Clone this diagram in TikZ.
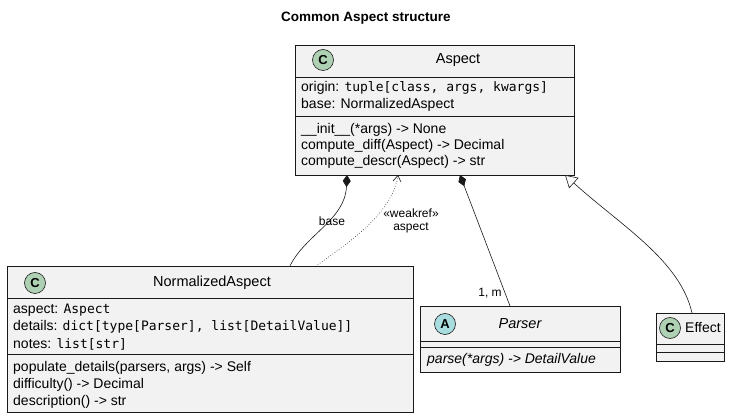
\documentclass[tikz,border=0pt]{standalone}
\usepackage{fontspec}
\setmainfont{Liberation Sans}
\newfontfamily\monof{DejaVu Sans Mono}
\usetikzlibrary{arrows.meta}
\newcommand{\mn}[1]{{\monof\fontsize{13}{15}\selectfont #1}}
\tikzset{
  box/.style={draw=black!90, fill=black!5, line width=0.6pt},
  txt/.style={anchor=west, inner sep=0pt, font=\fontsize{14}{16}\selectfont},
  circ/.style={circle, draw=black!90, line width=0.6pt, minimum size=21pt, inner sep=0pt, font=\bfseries\fontsize{13}{14}\selectfont},
  conn/.style={line width=0.6pt, black!90},
  lbl/.style={font=\fontsize{12}{13}\selectfont, inner sep=1pt, align=center}
}
\begin{document}
\begin{tikzpicture}[x=1pt,y=-1pt]
\useasboundingbox (0,0) rectangle (731,419);
\node[font=\bfseries\fontsize{13.5}{15}\selectfont] (title) at (366,18) {Common Aspect structure};
% Aspect
\draw[box] (295,45) rectangle (574,175);
\draw[conn] (295,77) -- (574,77) (295,116) -- (574,116);
\node[circ, fill={rgb,255:red,173;green,209;blue,178}] (ca) at (323,60) {C};
\node[font=\fontsize{14.5}{16}\selectfont] (aspect) at (458,60) {Aspect};
\node[txt] (a1) at (301,88) {origin: \mn{tuple[class, args, kwargs]}};
\node[txt] (a2) at (301,105) {base: NormalizedAspect};
\node[txt] (a3) at (301,130) {\_\_init\_\_(*args) -> None};
\node[txt] (a4) at (301,146) {compute\_diff(Aspect) -> Decimal};
\node[txt] (a5) at (301,162) {compute\_descr(Aspect) -> str};
% NormalizedAspect
\draw[box] (7,266) rectangle (413,412);
\draw[conn] (7,298) -- (413,298) (7,354) -- (413,354);
\node[circ, fill={rgb,255:red,173;green,209;blue,178}] (cn) at (35,283) {C};
\node[font=\fontsize{14.5}{16}\selectfont] (norm) at (212,283) {NormalizedAspect};
\node[txt] (n1) at (13,310) {aspect: \mn{Aspect}};
\node[txt] (n2) at (13,327) {details: \mn{dict[type[Parser], list[DetailValue]]}};
\node[txt] (n3) at (13,344) {notes: \mn{list[str]}};
\node[txt] (n4) at (13,368) {populate\_details(parsers, args) -> Self};
\node[txt] (n5) at (13,385) {difficulty() -> Decimal};
\node[txt] (n6) at (13,402) {description() -> str};
% Parser
\draw[box] (420,306) rectangle (620,372);
\draw[conn] (420,341) -- (620,341) (420,347) -- (620,347);
\node[circ, fill={rgb,255:red,169;green,220;blue,223}] (cp) at (445,324) {A};
\node[font=\itshape\fontsize{14.5}{16}\selectfont] (parser) at (520,324) {Parser};
\node[txt, font=\itshape\fontsize{14}{16}\selectfont] (p1) at (427,360) {parse(*args) -> DetailValue};
% Effect
\draw[box] (656,313) rectangle (724,361);
\draw[conn] (656,344) -- (724,344) (656,352) -- (724,352);
\node[circ, fill={rgb,255:red,173;green,209;blue,178}] (ce) at (670,328) {C};
\node[font=\fontsize{14}{16}\selectfont] (effect) at (703,328) {Effect};
% coordinates
\coordinate (s1) at (347,175); \coordinate (t1) at (290,266);
\coordinate (s2) at (398,175); \coordinate (t2) at (316,266);
\coordinate (s3) at (460,175); \coordinate (t3) at (510,306);
\coordinate (s4) at (565,175); \coordinate (t4) at (692,313);
\draw[conn, {Diamond[length=12pt,width=8pt,fill=black!90]}-] (s1) .. controls (345,220) and (305,235) .. (t1);
\draw[conn, dotted, {Straight Barb[length=6pt,width=8pt]}-] (s2) .. controls (392,215) and (345,245) .. (t2);
\draw[conn, {Diamond[length=12pt,width=8pt,fill=black!90]}-] (s3) -- (t3);
\draw[conn, {Triangle[open,length=12pt,width=14pt,fill=white]}-] (s4) .. controls (620,225) and (680,260) .. (t4);
\node[lbl] (l1) at (332,221) {base};
\node[lbl] (l2) at (411,221) {«weakref»\\aspect};
\node[lbl] (l3) at (490,293) {1, m};
\end{tikzpicture}
\end{document}
